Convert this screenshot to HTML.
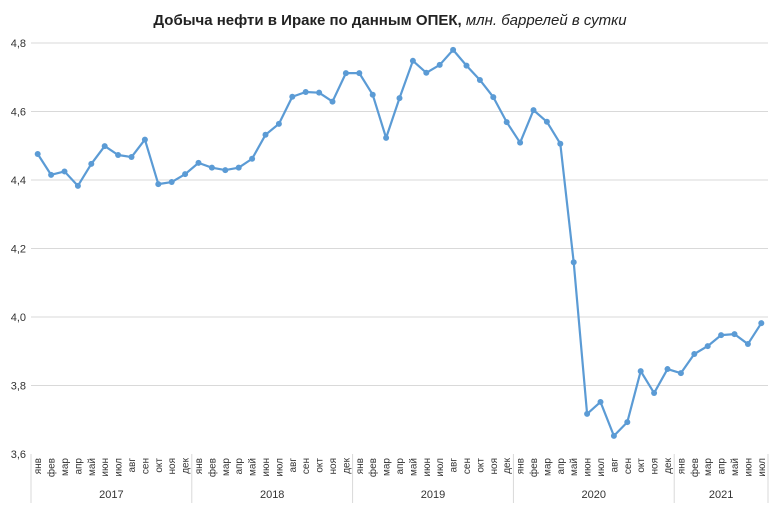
<!DOCTYPE html>
<html><head><meta charset="utf-8"><style>
body{margin:0;background:#fff;}
svg text{font-family:"Liberation Sans",sans-serif;}
</style></head><body>
<svg id="c" width="781" height="508" xmlns="http://www.w3.org/2000/svg">
<text x="390" y="25" text-anchor="middle" font-size="15" fill="#222"><tspan font-weight="bold">Добыча  нефти в Ираке по данным ОПЕК,</tspan><tspan font-style="italic"> млн. баррелей в сутки</tspan></text>
<g id="grid"></g><g id="xa"></g><g id="ser"></g>
</svg>
<script>
const years=["2017","2018","2019","2020","2021"];
const months=["янв","фев","мар","апр","май","июн","июл","авг","сен","окт","ноя","дек"];
const yTicks=[3.6,3.8,4.0,4.2,4.4,4.6,4.8];
const yTickLabels=["3,6","3,8","4,0","4,2","4,4","4,6","4,8"];
const values=[4.476,4.415,4.425,4.383,4.447,4.499,4.473,4.467,4.518,4.388,4.394,4.417,
4.450,4.436,4.429,4.436,4.462,4.532,4.564,4.643,4.657,4.655,4.629,4.712,
4.712,4.649,4.523,4.639,4.748,4.713,4.736,4.780,4.734,4.692,4.642,4.569,
4.509,4.604,4.570,4.506,4.160,3.717,3.752,3.653,3.693,3.842,3.778,3.848,
3.836,3.892,3.915,3.947,3.950,3.921,3.982];
const NS="http://www.w3.org/2000/svg";
const X0=31,CW=13.4,Y0=454,Y1=43;
const xS=i=>X0+(i+0.5)*CW;
const yS=v=>Y0-(v-3.6)/(1.2)*(Y0-Y1);
function mk(t,a,p){const e=document.createElementNS(NS,t);for(const k in a)e.setAttribute(k,a[k]);p.appendChild(e);return e;}
const g=document.getElementById('grid'),xa=document.getElementById('xa'),s=document.getElementById('ser');
const right=X0+values.length*CW;
yTicks.forEach((v,i)=>{
 if(i>0){const l=mk('line',{x1:X0,x2:right,y1:yS(v),y2:yS(v),stroke:'#d9d9d9','stroke-width':1},g);
 
 }
 const t=mk('text',{x:26,y:yS(v)+4,'text-anchor':'end','font-size':11,fill:'#333'},g);
 t.textContent=yTickLabels[i];
 
 
});
for(let i=0;i<values.length;i++){
 const m=i%12,x=xS(i);
 const t=mk('text',{x:0,y:0,'font-size':10,fill:'#333','text-anchor':'end',transform:`translate(${x+3.5},458) rotate(-90)`},xa);
 t.textContent=months[m];
 
 
}
years.forEach((y,k)=>{
 const start=k*12,end=Math.min(values.length,start+12);
 const xl=X0+start*CW;
 const l=mk('line',{x1:xl,x2:xl,y1:Y0,y2:503,stroke:'#d9d9d9'},xa);
 
 
 const t=mk('text',{x:X0+(start+end)/2*CW,y:498,'text-anchor':'middle','font-size':11,fill:'#333'},xa);
 t.textContent=y;
 
 
});
const lr=mk('line',{x1:right,x2:right,y1:Y0,y2:503,stroke:'#d9d9d9'},xa);


const pl=mk('polyline',{points:values.map((v,i)=>xS(i)+','+yS(v)).join(' '),fill:'none',stroke:'#5b9bd5','stroke-width':2.2,'stroke-linejoin':'round'},s);


values.forEach((v,i)=>{
 const c=mk('circle',{cx:xS(i),cy:yS(v),r:3,fill:'#5b9bd5'},s);
 
 
});
</script>
</body></html>
